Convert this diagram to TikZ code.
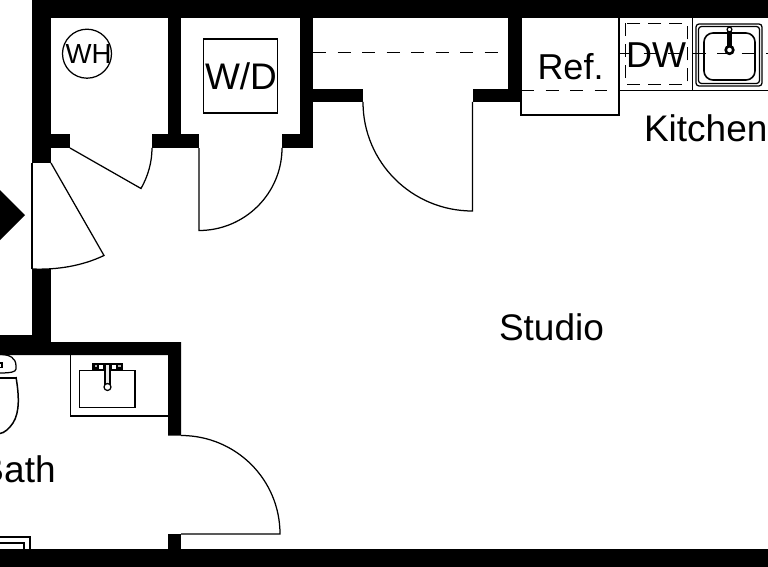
\documentclass[tikz,border=0pt]{standalone}
\usepackage{fontspec}
\setmainfont{Liberation Sans}
\tikzset{
  wall/.style={fill=black,draw=none},
  thin line/.style={draw=black,line width=1.25pt},
  door line/.style={draw=black,line width=1.25pt},
  center dash/.style={draw=black,line width=1pt,dash pattern=on 13pt off 11.5pt},
  lab/.style={anchor=base west,inner sep=0pt,outer sep=0pt,text=black}
}
\begin{document}
\begin{tikzpicture}[x=1pt,y=-1pt]
\useasboundingbox (0,0) rectangle (768,567);
\clip (0,0) rectangle (768,567);
\fill[white] (0,0) rectangle (768,567);
% walls
\fill[wall] (32,0) rectangle (768,18);
\fill[wall] (32,0) rectangle (51,163);
\fill[wall] (51,134) rectangle (70,148);
\fill[wall] (152,134) rectangle (199,148);
\fill[wall] (168,18) rectangle (181,134);
\fill[wall] (282,134) rectangle (313,148);
\fill[wall] (300,18) rectangle (313,134);
\fill[wall] (313,89) rectangle (363,102);
\fill[wall] (472.5,89) rectangle (521,102);
\fill[wall] (508,18) rectangle (521,89);
\fill[wall] (32,269) rectangle (51,342);
\fill[wall] (0,335) -- (32,335) -- (32,342) -- (181,342) -- (181,435.5) -- (168,435.5) -- (168,355) -- (0,355) -- cycle;
\fill[wall] (168,534) rectangle (181,549);
\fill[wall] (0,549) rectangle (768,567);
\fill[wall] (0,190) -- (25,215) -- (0,240) -- cycle;
% doors
\draw[door line] (32,163) -- (32,269);
\draw[door line] (51,163) -- (104,255.5) .. controls (82,266) and (57,270) .. (32,269);
\draw[door line] (70,148) -- (141,188.5) .. controls (148,176.2) and (152,162.2) .. (152,148);
\draw[door line] (199,148) -- (199,230.5) .. controls (244.6,230.5) and (282,193.6) .. (282,148);
\draw[door line] (472.5,102) -- (472.5,211) .. controls (412,211) and (363,162.5) .. (363,102);
\draw[door line] (181,534) -- (280,534) .. controls (280,479.3) and (235.7,435.5) .. (181,435.5);
% closet shelf
\draw[center dash] (313,53) -- (500,53);
% water heater, washer/dryer
\node[draw=black,line width=1.25pt,circle,minimum size=49pt,inner sep=0pt] (wh) at (87,53.7) {};
\node[lab,font=\fontsize{27.6}{30}\selectfont] (whl) at (65.5,64) {WH};
\node[draw=black,line width=1.25pt,minimum width=74pt,minimum height=74pt,inner sep=0pt] (wd) at (240.5,76) {};
\node[lab,font=\fontsize{37}{40}\selectfont] (wdl) at (205,90) {W/D};
% kitchen
\draw[thin line] (521,18) -- (521,115) -- (619,115) -- (619,18);
\draw[center dash] (521,90.5) -- (607,90.5);
\draw[thin line] (619,90.5) -- (768,90.5);
\draw[thin line] (692.5,18) -- (692.5,90.5);
\draw[center dash] (619,53.5) -- (768,53.5);
\draw[draw=black,line width=1pt,dash pattern=on 13pt off 8pt] (625,23.5) rectangle (687,84.5);
\node[lab,font=\fontsize{36}{38}\selectfont] (ref) at (537.5,80) {Ref.};
\node[lab,font=\fontsize{36}{38}\selectfont] (dw) at (626,68) {DW};
\node[lab,font=\fontsize{37}{40}\selectfont] (kit) at (644,142) {Kitchen};
\node[lab,font=\fontsize{37}{40}\selectfont] (studio) at (499,340) {Studio};
\node[lab,font=\fontsize{37}{40}\selectfont] (bath) at (-20.5,482) {Bath};
% kitchen sink
\draw[thin line,rounded corners=3pt] (696,24) rectangle (762,86);
\draw[thin line,rounded corners=3pt] (698.5,26.5) rectangle (759.5,83.5);
\draw[draw=black,line width=1.6pt,rounded corners=9pt] (704,33) rectangle (755,80);
\draw[draw=black,line width=1.2pt,fill=white] (727.5,31) rectangle (731.5,46);
\fill[black] (728,32) rectangle (731,47);
\draw[draw=black,line width=2.6pt,fill=white] (729.5,50) circle (3.8pt);
\draw[draw=black,line width=1.2pt,fill=white] (729.5,29.5) circle (2.4pt);
% bath sink
\draw[thin line] (70.5,355) -- (70.5,416) -- (168,416);
\draw[thin line] (79.5,370.5) rectangle (135,407.5);
\fill[black] (92,362.5) rectangle (123,370.5);
\fill[white] (99,364.5) rectangle (103,369);
\fill[white] (111.5,364.5) rectangle (116,369);
\fill[gray!60!white] (94.5,364.5) rectangle (97,367);
\fill[gray!60!white] (118,364.5) rectangle (120.5,367);
\draw[draw=black,line width=1.25pt,fill=gray!15] (105,364) rectangle (110,385);
\draw[draw=black,line width=1.25pt,fill=white] (107.5,387) circle (3.5pt);
% toilet
\draw[thin line] (0,354.5) .. controls (10,354.5) and (16,358) .. (16,366) -- (16,369) .. controls (16,372) and (10,373) .. (0,373);
\draw[draw=black,line width=2pt] (0,377.5) -- (16,377.5);
\draw[thin line] (0,363) -- (2,363) -- (2,367.5) -- (0,367.5);
\draw[draw=black,line width=1.5pt] (16,377) .. controls (19,395) and (20,412) .. (13,423) .. controls (9,429) and (4,433) .. (0,433.5);
% tub corner
\draw[thin line] (0,537) -- (30,537) -- (30,549);
\draw[thin line] (0,543) -- (24,543) -- (24,549);
\end{tikzpicture}
\end{document}
